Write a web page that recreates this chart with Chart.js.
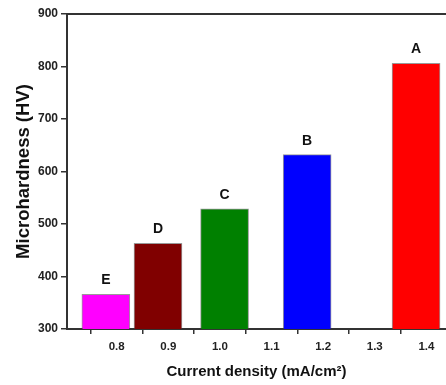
<!DOCTYPE html>
<html>
<head>
<meta charset="utf-8">
<script src="https://cdn.jsdelivr.net/npm/chart.js@4/dist/chart.umd.min.js"></script>
<style>
html,body{margin:0;padding:0;background:#fff;overflow:hidden}
#wrap{width:446px;height:385px;position:relative}
</style>
</head>
<body>
<div id="wrap"><canvas id="hardness-chart"></canvas></div>
<script>
var samples = ["E","D","C","B","A"];
var positions = [0.779,0.88,1.009,1.169,1.38];
var hardness = [366,463,529,632,806];
var barColors = ["#ff00ff","#800000","#008000","#0000ff","#ff0000"];
var xTicks = [0.8,0.9,1.0,1.1,1.2,1.3,1.4];
var yTicks = [300,400,500,600,700,800,900];

var points = positions.map(function(p,i){ return {x:p, y:hardness[i]}; });

// letters above bars + top frame line
var extras = {
  id: 'extras',
  afterDatasetsDraw: function(chart){
    var ctx = chart.ctx, meta = chart.getDatasetMeta(0);
    ctx.save();
    ctx.font = 'bold 14px "Liberation Sans", Arial, sans-serif';
    ctx.fillStyle = '#111';
    ctx.textAlign = 'center';
    ctx.textBaseline = 'bottom';
    meta.data.forEach(function(bar,i){
      ctx.fillText(samples[i], bar.x, bar.y - 7);
    });
    var a = chart.chartArea;
    ctx.strokeStyle = '#333';
    ctx.lineWidth = 2;
    ctx.beginPath();
    ctx.moveTo(a.left, a.top);
    ctx.lineTo(a.right, a.top);
    ctx.stroke();
    ctx.restore();
  }
};

new Chart(document.getElementById("hardness-chart"), {
  type: 'bar',
  data: {
    datasets: [{
      data: points,
      backgroundColor: barColors,
      borderColor: 'rgba(70,70,70,0.55)',
      borderWidth: 1,
      borderSkipped: 'bottom',
      barThickness: 48
    }]
  },
  options: {
    responsive: true,
    maintainAspectRatio: false,
    animation: false,
    layout: {padding: {top: 14, right: 0, bottom: 0, left: 0}},
    plugins: {legend: {display: false}, tooltip: {enabled: false}},
    scales: {
      x: {
        type: 'linear',
        min: 0.7037,
        max: 1.438,
        offset: false,
        afterBuildTicks: function(s){ s.ticks = xTicks.map(function(v){ return {value:v}; }); },
        afterFit: function(s){ s.height = 56; },
        grid: {drawOnChartArea: false, drawTicks: true, tickLength: 5, color: '#333', lineWidth: 1.5},
        border: {color: '#333', width: 2},
        ticks: {
          padding: 6,
          color: '#222',
          font: {family: '"Liberation Sans", Arial, sans-serif', size: 11.5, weight: 'bold'},
          callback: function(v){ return v.toFixed(1); }
        },
        title: {
          display: true,
          text: 'Current density (mA/cm²)',
          color: '#111',
          padding: {top: 0, bottom: 4},
          font: {family: '"Liberation Sans", Arial, sans-serif', size: 15, weight: 'bold'}
        }
      },
      y: {
        min: 300,
        max: 900,
        afterBuildTicks: function(s){ s.ticks = yTicks.map(function(v){ return {value:v}; }); },
        afterFit: function(s){ s.width = 67; },
        grid: {drawOnChartArea: false, drawTicks: true, tickLength: 6, color: '#333', lineWidth: 1.5},
        border: {color: '#333', width: 2},
        ticks: {
          padding: 3,
          color: '#222',
          font: {family: '"Liberation Sans", Arial, sans-serif', size: 12, weight: 'bold'}
        },
        title: {
          display: true,
          text: 'Microhardness (HV)',
          color: '#111',
          padding: {top: 13, bottom: 0},
          font: {family: '"Liberation Sans", Arial, sans-serif', size: 18.5, weight: 'bold'}
        }
      }
    }
  },
  plugins: [extras]
});
</script>
</body>
</html>
